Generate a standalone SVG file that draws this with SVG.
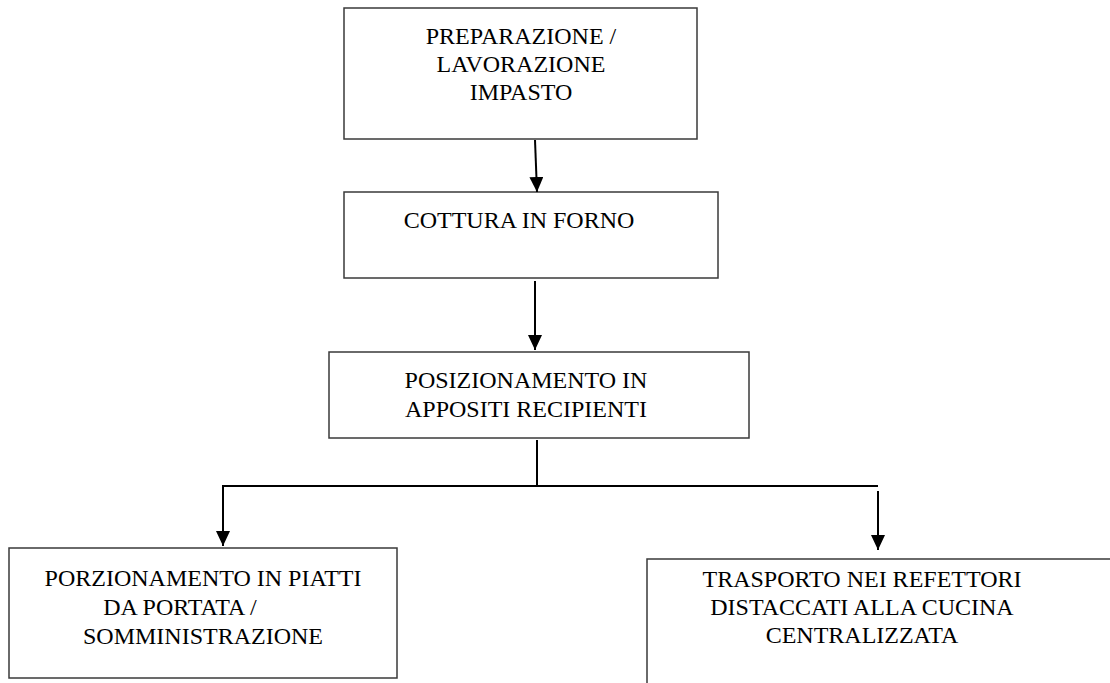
<svg xmlns="http://www.w3.org/2000/svg" width="1110" height="683" viewBox="0 0 1110 683">
  <style>
    .box { fill: #ffffff; stroke: #3a3a3a; stroke-width: 1.5; }
    .lbl { font-family: "Liberation Serif", "Times New Roman", "DejaVu Serif", serif; font-size: 24px; fill: #000000; text-anchor: middle; }
    .wire { fill: none; stroke: #000000; stroke-width: 2; }
  </style>
  <defs>
    <!-- solid triangular arrowhead, tip on the line end -->
    <marker id="head" viewBox="0 0 15 14" refX="15" refY="7" markerWidth="15" markerHeight="14" markerUnits="userSpaceOnUse" orient="auto">
      <path d="M0,0 L15,7 L0,14 Z" fill="#000000"/>
    </marker>
  </defs>
  <rect width="1110" height="683" fill="#ffffff"/>

  <g id="node-preparazione">
    <rect class="box" x="344" y="8" width="353" height="131"/>
    <text class="lbl" x="521" y="44">PREPARAZIONE /</text>
    <text class="lbl" x="521" y="72">LAVORAZIONE</text>
    <text class="lbl" x="521" y="100">IMPASTO</text>
  </g>

  <g id="node-cottura">
    <rect class="box" x="344" y="192" width="374" height="86"/>
    <text class="lbl" x="519" y="228">COTTURA IN FORNO</text>
  </g>

  <g id="node-posizionamento">
    <rect class="box" x="329" y="352" width="420" height="86"/>
    <text class="lbl" x="526" y="388">POSIZIONAMENTO IN</text>
    <text class="lbl" x="526" y="417">APPOSITI RECIPIENTI</text>
  </g>

  <g id="node-porzionamento">
    <rect class="box" x="9" y="548" width="388" height="130"/>
    <text class="lbl" x="203" y="586">PORZIONAMENTO IN PIATTI</text>
    <text class="lbl" x="180" y="615">DA PORTATA /</text>
    <text class="lbl" x="203" y="644">SOMMINISTRAZIONE</text>
  </g>

  <g id="node-trasporto">
    <rect class="box" x="647" y="559" width="470" height="140"/>
    <text class="lbl" x="862" y="587">TRASPORTO NEI REFETTORI</text>
    <text class="lbl" x="862" y="615">DISTACCATI ALLA CUCINA</text>
    <text class="lbl" x="862" y="643">CENTRALIZZATA</text>
  </g>

  <g id="connectors">
    <line class="wire" x1="535" y1="140" x2="537" y2="192" marker-end="url(#head)"/>
    <line class="wire" x1="535" y1="281" x2="535" y2="350" marker-end="url(#head)"/>
    <line class="wire" x1="537" y1="440" x2="537" y2="486"/>
    <line class="wire" x1="223" y1="486" x2="878" y2="486"/>
    <line class="wire" x1="223" y1="485" x2="223" y2="546" marker-end="url(#head)"/>
    <line class="wire" x1="878" y1="491" x2="878" y2="550" marker-end="url(#head)"/>
  </g>
</svg>
